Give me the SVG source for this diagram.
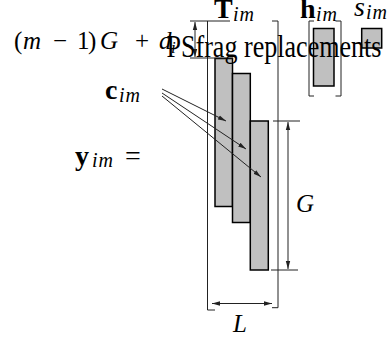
<svg xmlns="http://www.w3.org/2000/svg" width="389" height="343" viewBox="0 0 389 343">
<style>
.bar{fill:#c0c0c0;stroke:#000;stroke-width:1.5}
.thin{fill:none;stroke:#222;stroke-width:1}
.arr{fill:none;stroke:#222;stroke-width:1;marker-end:url(#ah)}
.dbl{fill:none;stroke:#222;stroke-width:1;marker-start:url(#ahs);marker-end:url(#ah)}
.lbl{font-family:"Liberation Serif","DejaVu Serif",serif;fill:#000}
.it{font-style:italic}
.bf{font-weight:bold}
.sub{font-style:italic;font-size:20px;letter-spacing:1px}
</style>
<defs>
<marker id="ah" markerUnits="userSpaceOnUse" markerWidth="10" markerHeight="6" refX="8" refY="3" orient="auto">
<path d="M0,0.8 L8,3 L0,5.2 Z" fill="#222"/>
</marker>
<marker id="ahs" markerUnits="userSpaceOnUse" markerWidth="10" markerHeight="6" refX="0" refY="3" orient="auto">
<path d="M8,0.8 L0,3 L8,5.2 Z" fill="#222"/>
</marker>
</defs>
<g id="T-block">
<rect class="bar" x="215" y="58.5" width="17.5" height="148"/>
<rect class="bar" x="232.5" y="73.5" width="17.8" height="149"/>
<rect class="bar" x="250.3" y="121" width="18" height="149"/>
<path class="thin" d="M207.5,21 V310 H215 M272,21 H278 V307.7 H272"/>
</g>
<g id="h-block">
<rect class="bar" x="313.5" y="28.5" width="20.5" height="57.5"/>
<path class="thin" d="M314,21 H309 V96 H314 M335.5,21 H341 V96 H335.5"/>
</g>
<g id="s-block">
<rect class="bar" x="361.7" y="28.5" width="20" height="19.5"/>
</g>
<g id="connectors">
<path class="thin" d="M190,21 H230 M190,58 H233"/>
<line class="dbl" x1="195" y1="22" x2="195" y2="57"/>
<line class="arr" x1="162" y1="89" x2="226" y2="121"/>
<line class="arr" x1="162" y1="93" x2="246" y2="149"/>
<line class="arr" x1="162" y1="96" x2="261" y2="177"/>
<path class="thin" d="M273,121 H300 M271,270 H298"/>
<line class="dbl" x1="288" y1="122" x2="288" y2="269"/>
<line class="dbl" x1="212" y1="303.5" x2="272" y2="303.5"/>
</g>
<g id="labels">
<text class="lbl" y="49" font-size="25"><tspan x="14">(</tspan><tspan class="it" x="23">m</tspan><tspan x="53">−</tspan><tspan x="77">1</tspan><tspan x="88">)</tspan><tspan class="it" x="100">G</tspan><tspan x="135">+</tspan><tspan class="it" x="159">d</tspan><tspan class="it" x="171" dy="4" font-size="17">i</tspan></text>
<text class="lbl" y="18" font-size="28"><tspan class="bf" x="214">T</tspan><tspan class="sub" x="233" dy="2.5">im</tspan></text>
<text class="lbl" y="18" font-size="28"><tspan class="bf" x="300">h</tspan><tspan class="sub" x="316" dy="2.5">im</tspan></text>
<text class="lbl" y="16" font-size="28"><tspan class="it" x="354">s</tspan><tspan class="sub" x="366" dy="2.5">im</tspan></text>
<text class="lbl" y="99" font-size="28"><tspan class="bf" x="105">c</tspan><tspan class="sub" x="119" dy="2.5">im</tspan></text>
<text class="lbl" y="165" font-size="28"><tspan class="bf" x="75">y</tspan><tspan class="sub" x="92" dy="2">im</tspan><tspan x="125" dy="-2">=</tspan></text>
<text class="lbl it" x="296" y="211.5" font-size="25">G</text>
<text class="lbl it" x="233" y="332" font-size="25">L</text>
<text class="lbl" x="166.5" y="56.7" font-size="32" textLength="215" lengthAdjust="spacingAndGlyphs">PSfrag replacements</text>
</g>
</svg>
